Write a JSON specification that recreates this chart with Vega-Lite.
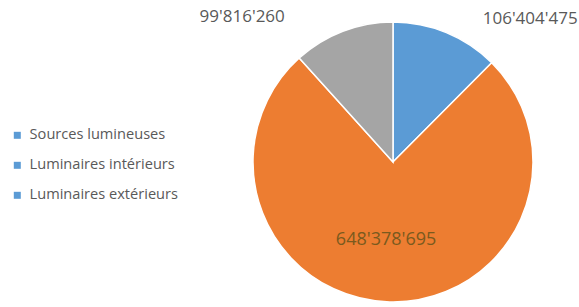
{
  "$schema": "https://vega.github.io/schema/vega-lite/v6.json",
  "autosize": {"type": "none"},
  "padding": {"left": 254, "top": 23, "right": 47, "bottom": 6},
  "width": 278,
  "height": 278,
  "background": "white",
  "config": {"view": {"stroke": null}, "font": "Open Sans"},
  "data": {
    "values": [
      {"cat": "Sources lumineuses", "value": 106404475, "label": "106'404'475", "idx": 1},
      {"cat": "Luminaires intérieurs", "value": 648378695, "label": "648'378'695", "idx": 2},
      {"cat": "Luminaires extérieurs", "value": 99816260, "label": "99'816'260", "idx": 3}
    ]
  },
  "encoding": {
    "theta": {"field": "value", "type": "quantitative", "stack": true},
    "order": {"field": "idx", "type": "quantitative"}
  },
  "layer": [
    {
      "mark": {"type": "arc", "outerRadius": 140, "stroke": "white", "strokeWidth": 1.5},
      "encoding": {
        "color": {
          "field": "cat",
          "type": "nominal",
          "scale": {
            "domain": ["Sources lumineuses", "Luminaires intérieurs", "Luminaires extérieurs"],
            "range": ["#5B9BD5", "#ED7D31", "#A5A5A5"]
          },
          "legend": null
        }
      }
    },
    {
      "mark": {"type": "text", "text": ""},
      "encoding": {
        "color": {
          "field": "cat",
          "type": "nominal",
          "scale": {
            "domain": ["Sources lumineuses", "Luminaires intérieurs", "Luminaires extérieurs"],
            "range": ["#5B9BD5", "#5B9BD5", "#5B9BD5"]
          },
          "legend": {
            "title": null,
            "orient": "none",
            "legendX": -244,
            "legendY": 105,
            "symbolType": "square",
            "symbolSize": 49,
            "symbolOpacity": 1,
            "labelFont": "Open Sans",
            "labelFontSize": 14.6,
            "labelColor": "#595959",
            "rowPadding": 15,
            "labelOffset": 5
          }
        }
      }
    },
    {
      "mark": {"type": "text", "radius": 150, "dx": 80, "dy": -4, "fontSize": 17, "color": "#595959"},
      "encoding": {
        "text": {"condition": {"test": "datum.idx == 1", "field": "label"}, "value": ""}
      }
    },
    {
      "mark": {"type": "text", "radius": 78, "dx": -5, "fontSize": 18, "color": "#7A5A1E"},
      "encoding": {
        "text": {"condition": {"test": "datum.idx == 2", "field": "label"}, "value": ""}
      }
    },
    {
      "mark": {"type": "text", "radius": 150, "dx": -97, "dy": -5, "fontSize": 17, "color": "#595959"},
      "encoding": {
        "text": {"condition": {"test": "datum.idx == 3", "field": "label"}, "value": ""}
      }
    }
  ],
  "resolve": {"scale": {"color": "independent"}}
}
